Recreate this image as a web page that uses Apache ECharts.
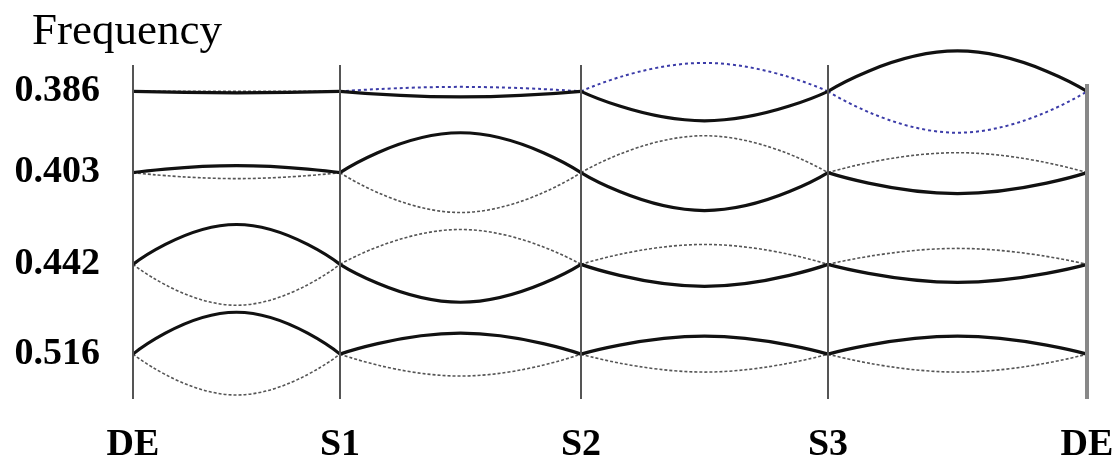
<!DOCTYPE html>
<html>
<head>
<meta charset="utf-8">
<script src="https://cdn.jsdelivr.net/npm/echarts@6/dist/echarts.min.js"></script>
<style>
  html, body { margin: 0; padding: 0; background: #fff; }
  #chart { width: 1120px; height: 464px; }
</style>
</head>
<body>
<div id="chart"></div>
<script>
// high-symmetry points along the path (path distance units)
var nodes = [0, 207, 448, 695, 954];
var nodeLabels = ['DE', 'S1', 'S2', 'S3', 'DE'];

// frequency levels (plot units) and their labels
var levels = [61.7, 45.4, 27, 9];
var levelLabels = ['0.386', '0.403', '0.442', '0.516'];

// value of each arc at the middle of each segment, [segment][level]
var solidMid = [
    [61.4, 46.8, 35, 17.4],
    [60.6, 53.4, 19.4, 13.2],
    [55.8, 37.8, 22.6, 12.6],
    [69.8, 41.2, 23.4, 12.6]
];
var dottedMid = [
    [61.7, 44.2, 18.8, 0.8],
    [null, 37.4, 34, 4.6],
    [null, 52.8, 31, 5.4],
    [null, 49.4, 30.2, 5.4]
];
var blueMid = [null, 62.6, 67.4, 53.4];

// top of the vertical lines
var lineTop = 67;

var series = [];

function arc(seg, lev, mid, style) {
    var x0 = nodes[seg], x1 = nodes[seg + 1];
    series.push({
        type: 'line',
        smooth: 0.5,
        symbol: 'none',
        silent: true,
        z: style.z,
        lineStyle: style.line,
        data: [[x0, levels[lev]], [(x0 + x1) / 2, mid], [x1, levels[lev]]]
    });
}

var solidStyle = { z: 4, line: { color: '#111', width: 3.2, type: 'solid' } };
var dotStyle = { z: 3, line: { color: '#555', width: 1.6, type: [3, 2] } };
var blueStyle = { z: 3, line: { color: '#3b3ba8', width: 2, type: [3, 3] } };

for (var s = 0; s < 4; s++) {
    for (var l = 0; l < 4; l++) {
        arc(s, l, solidMid[s][l], solidStyle);
        if (dottedMid[s][l] != null) arc(s, l, dottedMid[s][l], dotStyle);
    }
    if (blueMid[s] != null) arc(s, 0, blueMid[s], blueStyle);
}

// vertical lines at the path points
var vlines = nodes.map(function (x, i) {
    var last = i == nodes.length - 1;
    return [
        { coord: [x, last ? 63.2 : lineTop], lineStyle: { color: last ? '#888' : '#555', width: last ? 4 : 2, type: 'solid' } },
        { coord: [x, 0] }
    ];
});
series.push({
    type: 'line',
    data: [],
    z: 1,
    markLine: {
        silent: true,
        symbol: 'none',
        label: { show: false },
        animation: false,
        data: vlines
    }
});

var chart = echarts.init(document.getElementById('chart'));
chart.setOption({
    animation: false,
    backgroundColor: '#fff',
    title: {
        text: 'Frequency',
        left: 27,
        top: 5,
        textStyle: { fontFamily: 'Liberation Serif', fontWeight: 'normal', fontSize: 45, color: '#000' }
    },
    grid: { left: 133, right: 33, top: 40, bottom: 64 },
    xAxis: {
        type: 'value',
        min: 0,
        max: 954,
        axisLine: { show: false },
        axisTick: { show: false },
        splitLine: { show: false },
        axisLabel: {
            customValues: nodes,
            margin: 27,
            fontFamily: 'Liberation Serif',
            fontWeight: 'bold',
            fontSize: 38,
            color: '#000',
            formatter: function (v) {
                return nodeLabels[nodes.indexOf(v)];
            }
        }
    },
    yAxis: {
        type: 'value',
        min: 0,
        max: 72,
        axisLine: { show: false },
        axisTick: { show: false },
        splitLine: { show: false },
        axisLabel: {
            customValues: levels,
            margin: 33,
            fontFamily: 'Liberation Serif',
            fontWeight: 'bold',
            fontSize: 38,
            color: '#000',
            formatter: function (v) {
                return levelLabels[levels.indexOf(v)];
            }
        }
    },
    series: series
});
</script>
</body>
</html>
